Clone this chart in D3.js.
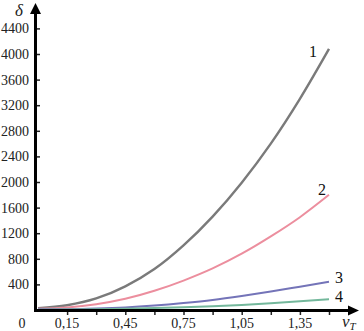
<!DOCTYPE html>
<html><head><meta charset="utf-8">
<script src="https://cdn.jsdelivr.net/npm/d3@7"></script>
<style>body{margin:0;background:#fff}svg{display:block}</style>
</head><body>
<script>
const vValues = [0, 0.15, 0.3, 0.45, 0.6, 0.75, 0.9, 1.05, 1.2, 1.35, 1.5];
const curve1 = [30, 75, 180, 370, 640, 1010, 1460, 1990, 2600, 3300, 4080];
const curve2 = [20, 40, 90, 175, 300, 460, 650, 880, 1150, 1450, 1800];
const curve3 = [10, 12, 22, 40, 70, 110, 158, 220, 290, 365, 440];
const curve4 = [5, 8, 12, 20, 30, 44, 60, 80, 105, 135, 170];
const curveNames = ["1", "2", "3", "4"];
const curveColors = ["#7a7a7a", "#ec8e9e", "#7474b8", "#74b89c"];
const yTickValues = [400, 800, 1200, 1600, 2000, 2400, 2800, 3200, 3600, 4000, 4400];
const xTickLabels = [0.15, 0.45, 0.75, 1.05, 1.35];
const xTickMarks = [0.15, 0.3, 0.45, 0.6, 0.75, 0.9, 1.05, 1.2, 1.35, 1.5];

const W = 364, H = 331;
const svg = d3.select("body").append("svg").attr("width", W).attr("height", H);
const x = d3.scaleLinear().domain([0, 1.5]).range([38, 329]);
const y = d3.scaleLinear().domain([0, 4400]).range([310, 28.4]);
const fmt = v => v.toFixed(2).replace(".", ",");

// curves
const series = [curve1, curve2, curve3, curve4];
const line = d3.line().x((d, i) => x(vValues[i])).y(d => y(d)).curve(d3.curveMonotoneX);
series.forEach((s, k) => {
  svg.append("path").attr("d", line(s)).attr("fill", "none")
    .attr("stroke", curveColors[k]).attr("stroke-width", k === 0 ? 2.4 : 2);
});

// axes
const ax = 35.5, ay = 310.5;
svg.append("line").attr("x1", ax).attr("x2", ax).attr("y1", ay + 1.5).attr("y2", 12)
  .attr("stroke", "#000").attr("stroke-width", 3);
svg.append("path").attr("d", `M${ax},3 L${ax - 5.5},14 L${ax + 5.5},14 Z`).attr("fill", "#000");
svg.append("line").attr("x1", ax - 1.5).attr("x2", 350).attr("y1", ay).attr("y2", ay)
  .attr("stroke", "#000").attr("stroke-width", 3);
svg.append("path").attr("d", `M359,${ay} L348,${ay - 5} L348,${ay + 5} Z`).attr("fill", "#000");

// y ticks
const yAxis = d3.axisRight(y).tickValues(yTickValues).tickSize(3).tickFormat("");
svg.append("g").attr("transform", `translate(${ax + 1.5},0)`).call(yAxis)
  .call(g => g.select(".domain").remove())
  .call(g => g.selectAll("line").attr("stroke", "#222").attr("stroke-width", 1.5));
svg.append("g").selectAll("text").data(yTickValues).join("text")
  .attr("x", 29).attr("y", d => y(d) + 5).attr("text-anchor", "end")
  .attr("font-family", "Liberation Serif, serif").attr("font-size", 14).attr("fill", "#222")
  .text(d => d);

// x ticks
const xAxis = d3.axisBottom(x).tickValues(xTickMarks).tickSize(3).tickFormat("");
svg.append("g").attr("transform", `translate(0,${ay + 1.5})`).call(xAxis)
  .call(g => g.select(".domain").remove())
  .call(g => g.selectAll("line").attr("stroke", "#222").attr("stroke-width", 1.5));
svg.append("g").selectAll("text").data(xTickLabels).join("text")
  .attr("x", d => x(d)).attr("y", 328).attr("text-anchor", "middle")
  .attr("font-family", "Liberation Serif, serif").attr("font-size", 14).attr("fill", "#222")
  .text(d => fmt(d));
svg.append("text").attr("x", 22).attr("y", 328).attr("text-anchor", "middle")
  .attr("font-family", "Liberation Serif, serif").attr("font-size", 14).attr("fill", "#222").text("0");

// axis titles
svg.append("text").attr("x", 19).attr("y", 16).attr("text-anchor", "middle")
  .attr("font-family", "Liberation Serif, serif").attr("font-style", "italic")
  .attr("font-size", 17).attr("fill", "#222").text("δ");
const vt = svg.append("text").attr("x", 342).attr("y", 327)
  .attr("font-family", "Liberation Serif, serif").attr("font-style", "italic")
  .attr("font-size", 17).attr("fill", "#222");
vt.append("tspan").text("v");
vt.append("tspan").attr("font-size", 11).attr("dy", 3).text("T");

// curve labels
const labelPos = [[313, 57], [322, 195], [339, 283], [339, 302]];
curveNames.forEach((n, k) => {
  svg.append("text").attr("x", labelPos[k][0]).attr("y", labelPos[k][1]).attr("text-anchor", "middle")
    .attr("font-family", "Liberation Serif, serif").attr("font-size", 16).attr("fill", "#111").text(n);
});
</script>
</body></html>
